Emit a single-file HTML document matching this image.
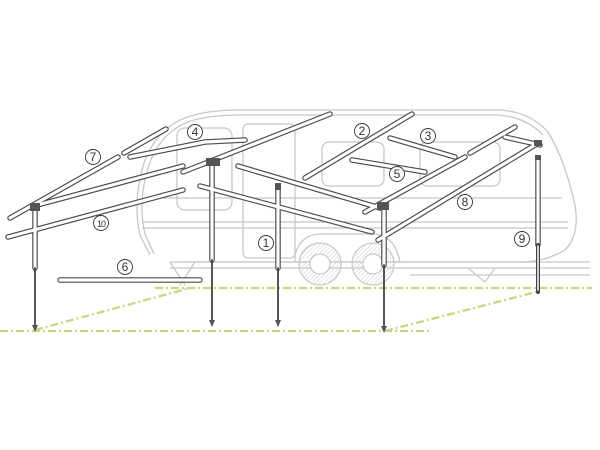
<!DOCTYPE html>
<html><head><meta charset="utf-8"><style>
html,body{margin:0;padding:0;background:#fff;}
svg{display:block}
text{font-family:"Liberation Sans",sans-serif;font-size:12px;fill:#333;text-anchor:middle}
</style></head><body>
<svg width="600" height="450" viewBox="0 0 600 450" xmlns="http://www.w3.org/2000/svg">
<defs>
<pattern id="h" width="3" height="3" patternUnits="userSpaceOnUse" patternTransform="rotate(45)"><line x1="0" y1="0" x2="0" y2="3" stroke="#ccc" stroke-width="1"/></pattern>
</defs>
<g fill="none" stroke="#c8c8c8" stroke-width="1.3">
<path d="M150,255 L140,235 Q132,200 145,160 Q158,128 185,118 Q205,110 240,110 L500,110 Q530,112 548,132 Q565,160 575,205 Q580,235 565,250 Q545,262 520,262 L180,262"/>
<path d="M154,254 L145,234 Q137,200 150,162 Q162,132 188,122 Q207,115 240,115 L498,115 Q526,117 543,135"/>
<line x1="142" y1="222" x2="568" y2="222"/>
<line x1="142" y1="228" x2="568" y2="228"/>
<line x1="150" y1="198" x2="562" y2="198"/>
<line x1="170" y1="262" x2="590" y2="262"/>
<line x1="170" y1="268" x2="590" y2="268"/>
<line x1="410" y1="275" x2="590" y2="275"/>
<rect x="177" y="128" width="55" height="82" rx="8"/>
<rect x="243" y="124" width="52" height="134" rx="5"/>
<rect x="322" y="142" width="62" height="44" rx="7"/>
<rect x="420" y="142" width="80" height="44" rx="7"/>
<path d="M295,262 L295,255 Q300,235 320,234 L375,234 Q395,236 400,262"/>
<path d="M170,262 L185,285 M195,262 L180,285 M468,268 L485,282 M495,268 L485,282"/>
</g>
<g stroke="#c8c8c8" stroke-width="1.2">
<circle cx="320" cy="264" r="21" fill="url(#h)"/>
<circle cx="373" cy="264" r="21" fill="url(#h)"/>
<circle cx="320" cy="264" r="10" fill="#fff"/>
<circle cx="373" cy="264" r="10" fill="#fff"/>
</g>
<g stroke="#c4da80" stroke-width="2.3" stroke-dasharray="8,3,2,3" fill="none">
<line x1="155" y1="288" x2="592" y2="288"/>
<line x1="0" y1="331" x2="430" y2="331"/>
<line x1="35" y1="330" x2="190" y2="288"/>
<line x1="385" y1="331" x2="540" y2="291"/>
</g>
<g stroke-linecap="round" fill="none">
<g stroke="#4a4a4a" stroke-width="5.5">
<path d="M10,218 L118,157 M124,153 L166,129 M30,207 L183,166 M8,237 L183,190 M130,157 L205,142 L245,140 M183,172 L330,114 M200,186 L372,232 M238,166 L380,208 M305,178 L412,114 M390,138 L455,157 M352,160 L425,172 M365,212 L465,157 M470,153 L515,127 M378,240 L535,145 M505,137 L540,145 M60,280 L200,280"/>
<path d="M35,207 L35,268 M212,162 L212,260 M278,190 L278,268 M384,205 L384,265 M538,158 L538,245"/>
</g>
<g stroke="#fff" stroke-width="3.2">
<path d="M10,218 L118,157 M124,153 L166,129 M30,207 L183,166 M8,237 L183,190 M130,157 L205,142 L245,140 M183,172 L330,114 M200,186 L372,232 M238,166 L380,208 M305,178 L412,114 M390,138 L455,157 M352,160 L425,172 M365,212 L465,157 M470,153 L515,127 M378,240 L535,145 M505,137 L540,145 M60,280 L200,280"/>
<path d="M35,207 L35,268 M212,162 L212,260 M278,190 L278,268 M384,205 L384,265 M538,158 L538,245"/>
</g>
<g stroke="#444" stroke-width="1.8">
<path d="M35,268 L35,328 M212,260 L212,325 M278,268 L278,325 M384,265 L384,330"/>
</g>
<path d="M538,245 L538,292" stroke="#444" stroke-width="4"/>
<path d="M538,246 L538,290" stroke="#fff" stroke-width="1.5"/>
<g fill="#555">
<path d="M32,325 L38,325 L35,332Z M209,320 L215,320 L212,327Z M275,320 L281,320 L278,327Z M381,326 L387,326 L384,333Z"/>
<rect x="206" y="158" width="14" height="8"/>
<rect x="30" y="203" width="10" height="8"/>
<rect x="377" y="202" width="12" height="8"/>
<rect x="534" y="140" width="8" height="6"/>
<rect x="275" y="183" width="6" height="7"/>
<rect x="535" y="155" width="6" height="5"/>
</g>
</g>
<g fill="#fff" stroke="#333" stroke-width="0.9">
<circle cx="266" cy="243" r="7.5"/><circle cx="362" cy="131" r="7.5"/><circle cx="428" cy="136" r="7.5"/>
<circle cx="195" cy="132" r="7.5"/><circle cx="397" cy="174" r="7.5"/><circle cx="125" cy="267" r="7.5"/>
<circle cx="93" cy="157" r="7.5"/><circle cx="465" cy="202" r="7.5"/><circle cx="522" cy="239" r="7.5"/>
<circle cx="101" cy="223" r="7.5"/>
</g>
<g>
<text x="266" y="247">1</text><text x="362" y="135">2</text><text x="428" y="140">3</text>
<text x="195" y="136">4</text><text x="397" y="178">5</text><text x="125" y="271">6</text>
<text x="93" y="161">7</text><text x="465" y="206">8</text><text x="522" y="243">9</text>
<text x="101" y="227" style="font-size:9px;letter-spacing:-1px">10</text>
</g>
</svg>
</body></html>
